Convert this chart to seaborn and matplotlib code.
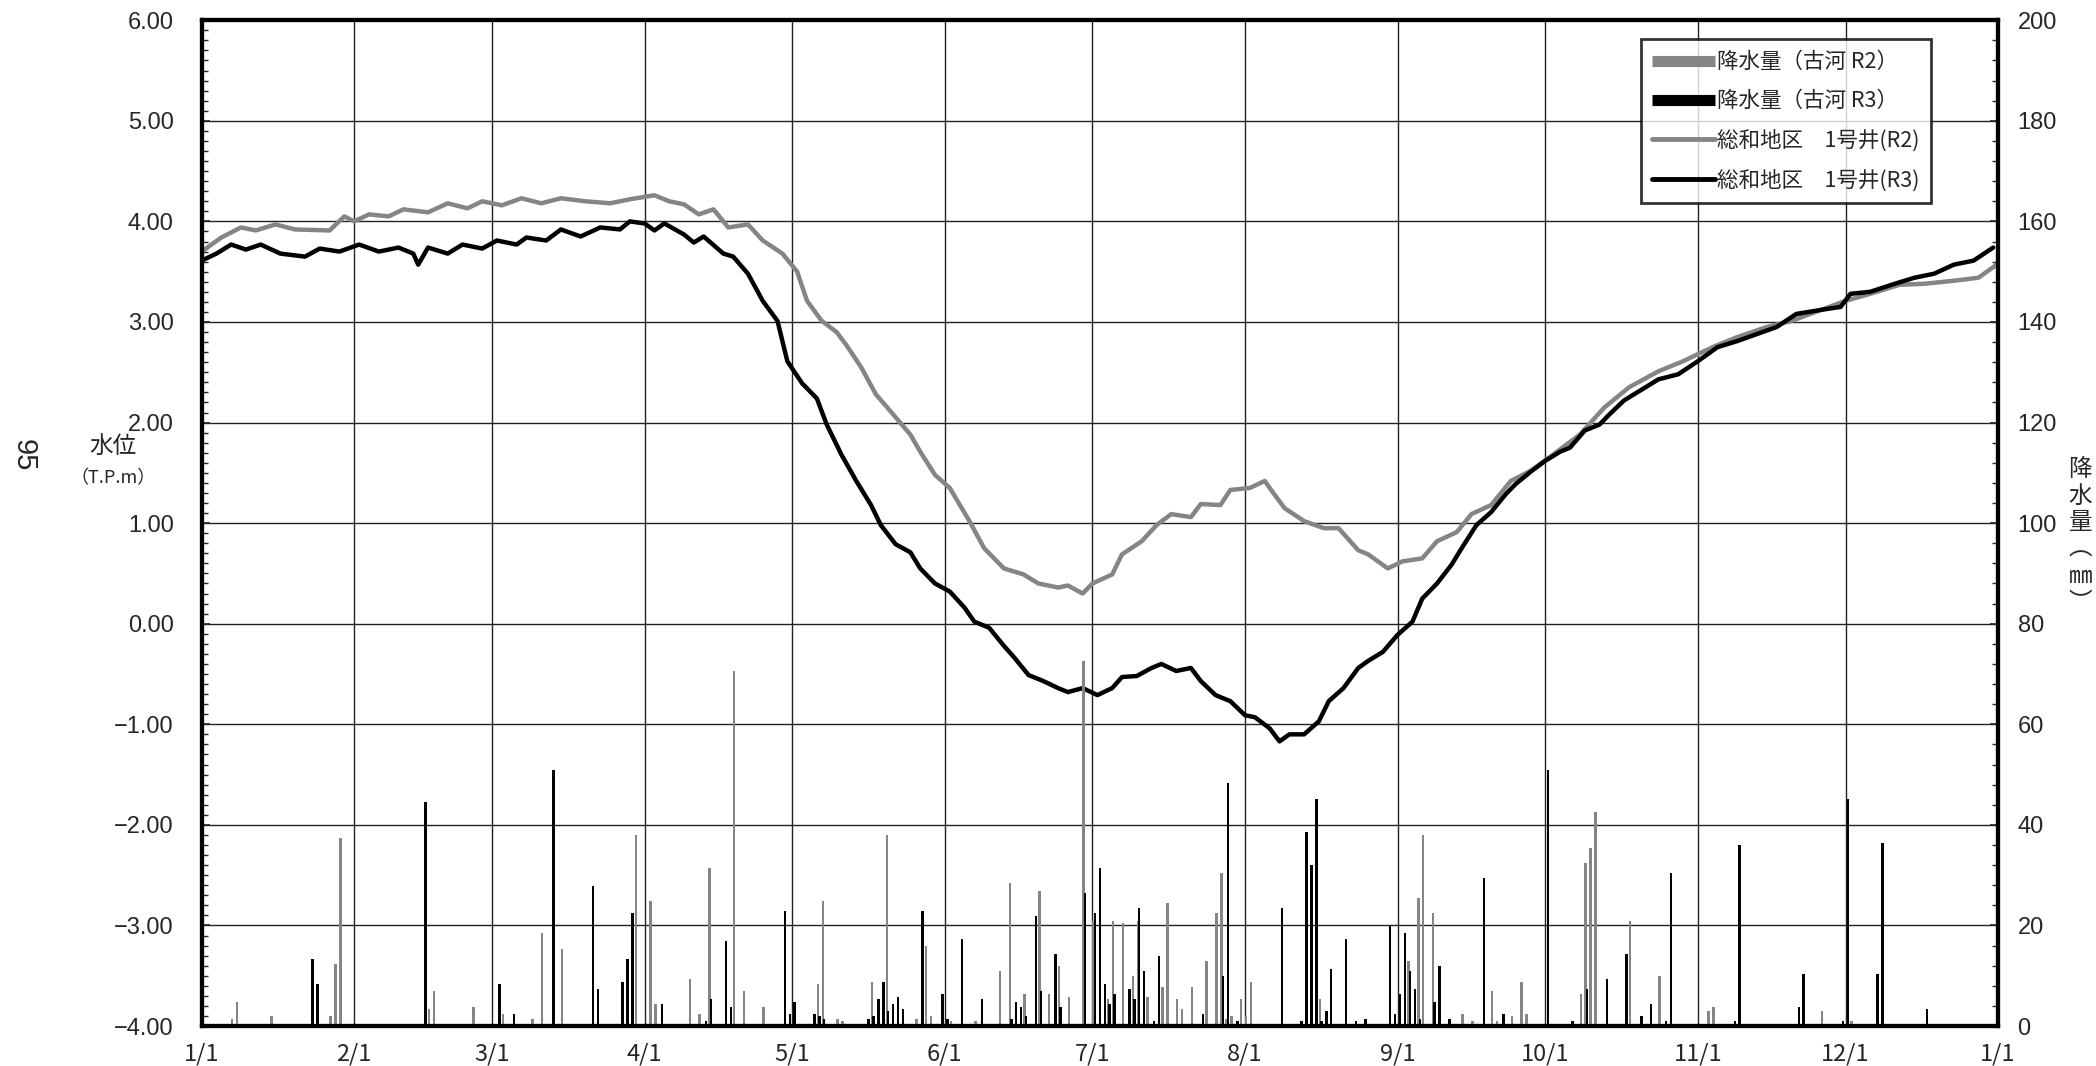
import matplotlib
matplotlib.use('Agg')
import matplotlib.pyplot as plt
from matplotlib.lines import Line2D
import numpy as np
import seaborn as sns

sns.set_style('white')
plt.rcParams['font.family'] = ['Noto Sans CJK JP', 'DejaVu Sans']

# month tick positions (day of year) and labels
month_days = [0, 31, 59, 90, 120, 151, 181, 212, 243, 273, 304, 334, 365]
month_labels = ['1/1', '2/1', '3/1', '4/1', '5/1', '6/1', '7/1', '8/1', '9/1',
                '10/1', '11/1', '12/1', '1/1']

# water level, 総和地区 1号井 R2 (gray)
r2_day = [0, 4, 8, 11, 15, 19, 26, 29, 31, 34, 38, 41, 46, 50, 54, 57, 61, 65, 69, 73,
          78, 83, 87, 92, 95, 98, 101, 104, 107, 111, 114, 118, 121, 123, 126, 129, 131,
          134, 137, 140, 144, 146, 149, 152, 156, 159, 163, 167, 170, 174, 176, 179, 181,
          185, 187, 191, 194, 197, 201, 203, 207, 209, 213, 216, 217, 220, 224, 228, 231,
          235, 237, 241, 244, 248, 251, 255, 258, 262, 266, 270, 274, 280, 285, 290, 296,
          301, 307, 312, 318, 323, 329, 334, 339, 345, 350, 356, 361, 365]
r2_lv = [3.70, 3.84, 3.94, 3.91, 3.97, 3.92, 3.91, 4.05, 4.00, 4.07, 4.05, 4.12, 4.09,
         4.18, 4.13, 4.20, 4.16, 4.23, 4.18, 4.23, 4.20, 4.18, 4.22, 4.26, 4.20, 4.17,
         4.07, 4.12, 3.94, 3.97, 3.81, 3.68, 3.50, 3.21, 3.01, 2.90, 2.77, 2.55, 2.28,
         2.11, 1.88, 1.71, 1.48, 1.35, 1.02, 0.75, 0.55, 0.49, 0.40, 0.36, 0.38, 0.30,
         0.40, 0.49, 0.69, 0.82, 0.98, 1.09, 1.06, 1.19, 1.18, 1.33, 1.35, 1.42, 1.35,
         1.15, 1.02, 0.95, 0.95, 0.73, 0.69, 0.55, 0.62, 0.65, 0.82, 0.91, 1.09, 1.18,
         1.42, 1.52, 1.66, 1.88, 2.15, 2.35, 2.51, 2.61, 2.75, 2.85, 2.95, 3.01, 3.12,
         3.21, 3.28, 3.37, 3.38, 3.41, 3.44, 3.58]

# water level, 総和地区 1号井 R3 (black)
r3_day = [0, 3, 6, 9, 12, 16, 21, 24, 28, 32, 36, 40, 43, 44, 46, 50, 53, 57, 60, 64,
          66, 70, 73, 77, 81, 85, 87, 90, 92, 94, 98, 100, 102, 106, 108, 111, 114, 117,
          119, 122, 125, 127, 130, 133, 136, 138, 141, 144, 146, 149, 152, 155, 157, 160,
          163, 165, 168, 171, 174, 176, 179, 182, 185, 187, 190, 193, 195, 198, 201, 203,
          206, 209, 212, 214, 217, 219, 221, 224, 227, 229, 232, 235, 237, 240, 243, 246,
          248, 251, 254, 256, 259, 262, 265, 267, 270, 273, 276, 278, 281, 284, 286, 289,
          292, 296, 300, 304, 308, 312, 316, 320, 324, 329, 333, 335, 339, 344, 348, 352,
          356, 360, 364]
r3_lv = [3.61, 3.68, 3.77, 3.72, 3.77, 3.68, 3.65, 3.73, 3.70, 3.77, 3.70, 3.74, 3.68,
         3.57, 3.74, 3.68, 3.77, 3.73, 3.81, 3.77, 3.84, 3.81, 3.92, 3.85, 3.94, 3.92,
         4.00, 3.98, 3.91, 3.98, 3.87, 3.79, 3.85, 3.68, 3.65, 3.48, 3.21, 3.01, 2.61,
         2.39, 2.24, 1.98, 1.68, 1.42, 1.18, 0.98, 0.79, 0.71, 0.55, 0.40, 0.32, 0.16,
         0.02, -0.04, -0.22, -0.33, -0.51, -0.57, -0.64, -0.68, -0.64, -0.71, -0.64,
         -0.53, -0.52, -0.44, -0.40, -0.47, -0.44, -0.57, -0.71, -0.77, -0.91, -0.93,
         -1.04, -1.17, -1.10, -1.10, -0.97, -0.77, -0.64, -0.44, -0.37, -0.28, -0.11,
         0.02, 0.25, 0.40, 0.59, 0.75, 0.98, 1.11, 1.29, 1.39, 1.51, 1.62, 1.71, 1.75,
         1.92, 1.98, 2.08, 2.22, 2.31, 2.43, 2.48, 2.61, 2.75, 2.81, 2.88, 2.95, 3.08,
         3.12, 3.15, 3.28, 3.30, 3.38, 3.44, 3.48, 3.57, 3.61, 3.74]

# rainfall 古河 R2 (gray), mm
rain2_day = [6, 7, 14, 26, 27, 28, 46, 47, 55, 56, 61, 64, 66, 67, 69, 73, 88, 91, 92, 99,
             101, 103, 108, 110, 114, 117, 125, 126, 129, 130, 131, 136, 139, 145, 147,
             148, 152, 157, 162, 164, 167, 168, 170, 172, 174, 176, 179, 181, 184, 185,
             187, 189, 190, 192, 195, 196, 198, 199, 201, 204, 206, 207, 208, 209, 211,
             212, 213, 227, 245, 247, 248, 250, 256, 257, 258, 262, 263, 266, 268, 269,
             270, 280, 281, 282, 283, 290, 296, 306, 307, 329, 335]
rain2_mm = [1.3, 4.8, 1.9, 1.9, 12.4, 37.4, 3.3, 6.9, 3.8, 0.3, 2.3, 0.3, 0.3, 1.3, 18.4,
            15.4, 38.0, 24.9, 4.3, 9.4, 2.3, 31.5, 70.5, 6.9, 3.8, 0.4, 8.3, 24.9, 1.3,
            0.9, 0.5, 8.8, 38.0, 1.3, 15.9, 1.9, 0.9, 0.9, 10.9, 28.5, 6.4, 0.5, 26.9,
            6.4, 11.9, 5.8, 72.5, 20.9, 5.3, 20.9, 20.4, 9.9, 20.9, 5.8, 7.8, 24.4, 5.3,
            3.3, 7.8, 12.9, 22.4, 30.5, 1.3, 1.9, 5.3, 1.9, 8.8, 5.3, 12.9, 25.5, 38.0,
            22.4, 2.3, 0.3, 0.9, 6.9, 0.9, 1.9, 8.8, 2.3, 0.3, 6.4, 32.4, 35.4, 42.5,
            20.9, 9.9, 2.9, 3.8, 2.9, 0.9]

# rainfall 古河 R3 (black), mm
rain3_day = [22, 23, 27, 28, 45, 60, 63, 71, 78, 79, 80, 85, 86, 87, 93, 94, 102, 103, 106,
             107, 118, 119, 120, 124, 125, 126, 133, 135, 136, 137, 138, 139, 140, 141, 142,
             146, 150, 151, 153, 154, 158, 164, 165, 166, 167, 169, 170, 173, 174, 179, 180,
             181, 182, 183, 184, 185, 188, 189, 190, 191, 193, 194, 195, 203, 206, 207, 208,
             210, 219, 223, 224, 225, 226, 227, 228, 229, 232, 234, 235, 236, 240, 241, 242,
             243, 244, 245, 246, 247, 250, 251, 253, 260, 264, 267, 273, 278, 281, 285, 289,
             292, 294, 297, 298, 299, 311, 312, 324, 325, 333, 334, 340, 341, 347, 350]
rain3_mm = [13.4, 8.3, 0.3, 0.3, 44.5, 8.3, 2.3, 51.0, 0.3, 27.9, 7.4, 8.8, 13.4, 22.4, 4.3,
            0.3, 0.9, 5.3, 16.9, 3.8, 22.9, 2.3, 4.8, 2.3, 1.9, 1.3, 0.3, 1.3, 1.9, 5.3, 8.8,
            2.9, 4.3, 5.8, 3.3, 22.9, 6.4, 1.3, 0.3, 17.4, 5.3, 1.3, 4.8, 3.8, 1.9, 21.9,
            6.9, 14.4, 3.8, 26.4, 0.3, 22.4, 31.5, 8.3, 4.3, 6.4, 7.4, 5.3, 23.4, 10.9, 0.9,
            13.9, 0.3, 2.3, 0.3, 9.9, 48.4, 0.9, 23.4, 0.9, 38.5, 32.0, 45.1, 0.9, 2.9,
            11.4, 17.4, 0.9, 0.3, 1.3, 0.3, 19.9, 2.3, 6.4, 18.4, 10.9, 7.4, 1.3, 4.8,
            11.9, 1.3, 29.5, 2.3, 0.3, 51.0, 0.9, 7.4, 9.4, 14.4, 1.9, 4.3, 0.9, 30.5, 0.3,
            0.9, 36.0, 3.8, 10.4, 0.9, 45.1, 10.4, 36.4, 0.3, 3.3]

left_ticks = [6, 5, 4, 3, 2, 1, 0, -1, -2, -3, -4]
left_labels = ['6.00', '5.00', '4.00', '3.00', '2.00', '1.00', '0.00',
               '\u22121.00', '\u22122.00', '\u22123.00', '\u22124.00']
right_ticks = list(range(0, 201, 20))

GRAY = '#858585'
NUMFONT = 'Liberation Sans'

fig = plt.figure(figsize=(20.96, 10.66), dpi=100)
ax = fig.add_axes([0.0962, 0.0375, 0.8571, 0.9435])
ax2 = ax.twinx()

# water level lines
sns.lineplot(x=r2_day, y=r2_lv, color=GRAY, lw=3.2, ax=ax, zorder=3)
sns.lineplot(x=r3_day, y=r3_lv, color='black', lw=3.2, ax=ax, zorder=4)

# rainfall bars (gray slightly left, black slightly right within a day)
ax2.bar(np.array(rain2_day) + 0.2, rain2_mm, width=0.5, color=GRAY, linewidth=0)
ax2.bar(np.array(rain3_day) + 0.5, rain3_mm, width=0.5, color='black', linewidth=0)

ax.set_xlim(0, 365)
ax.set_ylim(-4, 6)
ax2.set_ylim(0, 200)

ax.set_xticks(month_days)
ax.set_xticklabels(month_labels, fontsize=17)
ax.set_yticks(left_ticks)
ax.set_yticklabels(left_labels, fontsize=17, family=NUMFONT)
ax.set_yticks(np.arange(-4, 6.01, 0.1), minor=True)
ax2.set_yticks(right_ticks)
ax2.set_yticklabels([str(t) for t in right_ticks], fontsize=17, family=NUMFONT)
ax2.set_yticks(np.arange(0, 201, 4), minor=True)

ax.grid(True, which='major', color='#222222', lw=1.0)
ax.set_xlabel('')
ax.set_ylabel('')

ax.tick_params(axis='y', which='major', direction='in', length=6, width=1.2, pad=20, left=True)
ax.tick_params(axis='y', which='minor', direction='in', length=4, width=1.0, left=True)
ax.tick_params(axis='x', which='major', length=0, pad=12)
ax2.tick_params(axis='y', which='major', direction='in', length=6, width=1.2, pad=14, right=True)
ax2.tick_params(axis='y', which='minor', direction='in', length=4, width=1.0, right=True)

for a in (ax, ax2):
    for s in a.spines.values():
        s.set_linewidth(3)
        s.set_color('black')

# labels
fig.text(0.054, 0.581, '水位', fontsize=17, ha='center', va='center')
fig.text(0.054, 0.551, '（T.P.m）', fontsize=13, ha='center', va='center')
fig.text(0.9925, 0.497, '降\n水\n量\n︵\n㎜\n︶', fontsize=17, ha='center', va='center',
         linespacing=1.2)
fig.text(0.0115, 0.573, '95', fontsize=21, ha='center', va='center', rotation=270,
         family=NUMFONT)

handles = [
    Line2D([], [], color=GRAY, lw=8, solid_capstyle='butt'),
    Line2D([], [], color='black', lw=8, solid_capstyle='butt'),
    Line2D([], [], color=GRAY, lw=3.5, solid_capstyle='round'),
    Line2D([], [], color='black', lw=3.5, solid_capstyle='round'),
]
labels = ['降水量（古河 R2）', '降水量（古河 R3）', '総和地区\u30001号井(R2)', '総和地区\u30001号井(R3)']
leg = ax2.legend(handles, labels, loc='upper left', bbox_to_anchor=(0.801, 0.981),
                 fontsize=15.5, frameon=True, fancybox=False, edgecolor='black',
                 handlelength=2.9, handletextpad=0.1, labelspacing=0.8,
                 borderpad=0.55, borderaxespad=0)
leg.get_frame().set_linewidth(2)

fig.savefig('out.png', dpi=100)
